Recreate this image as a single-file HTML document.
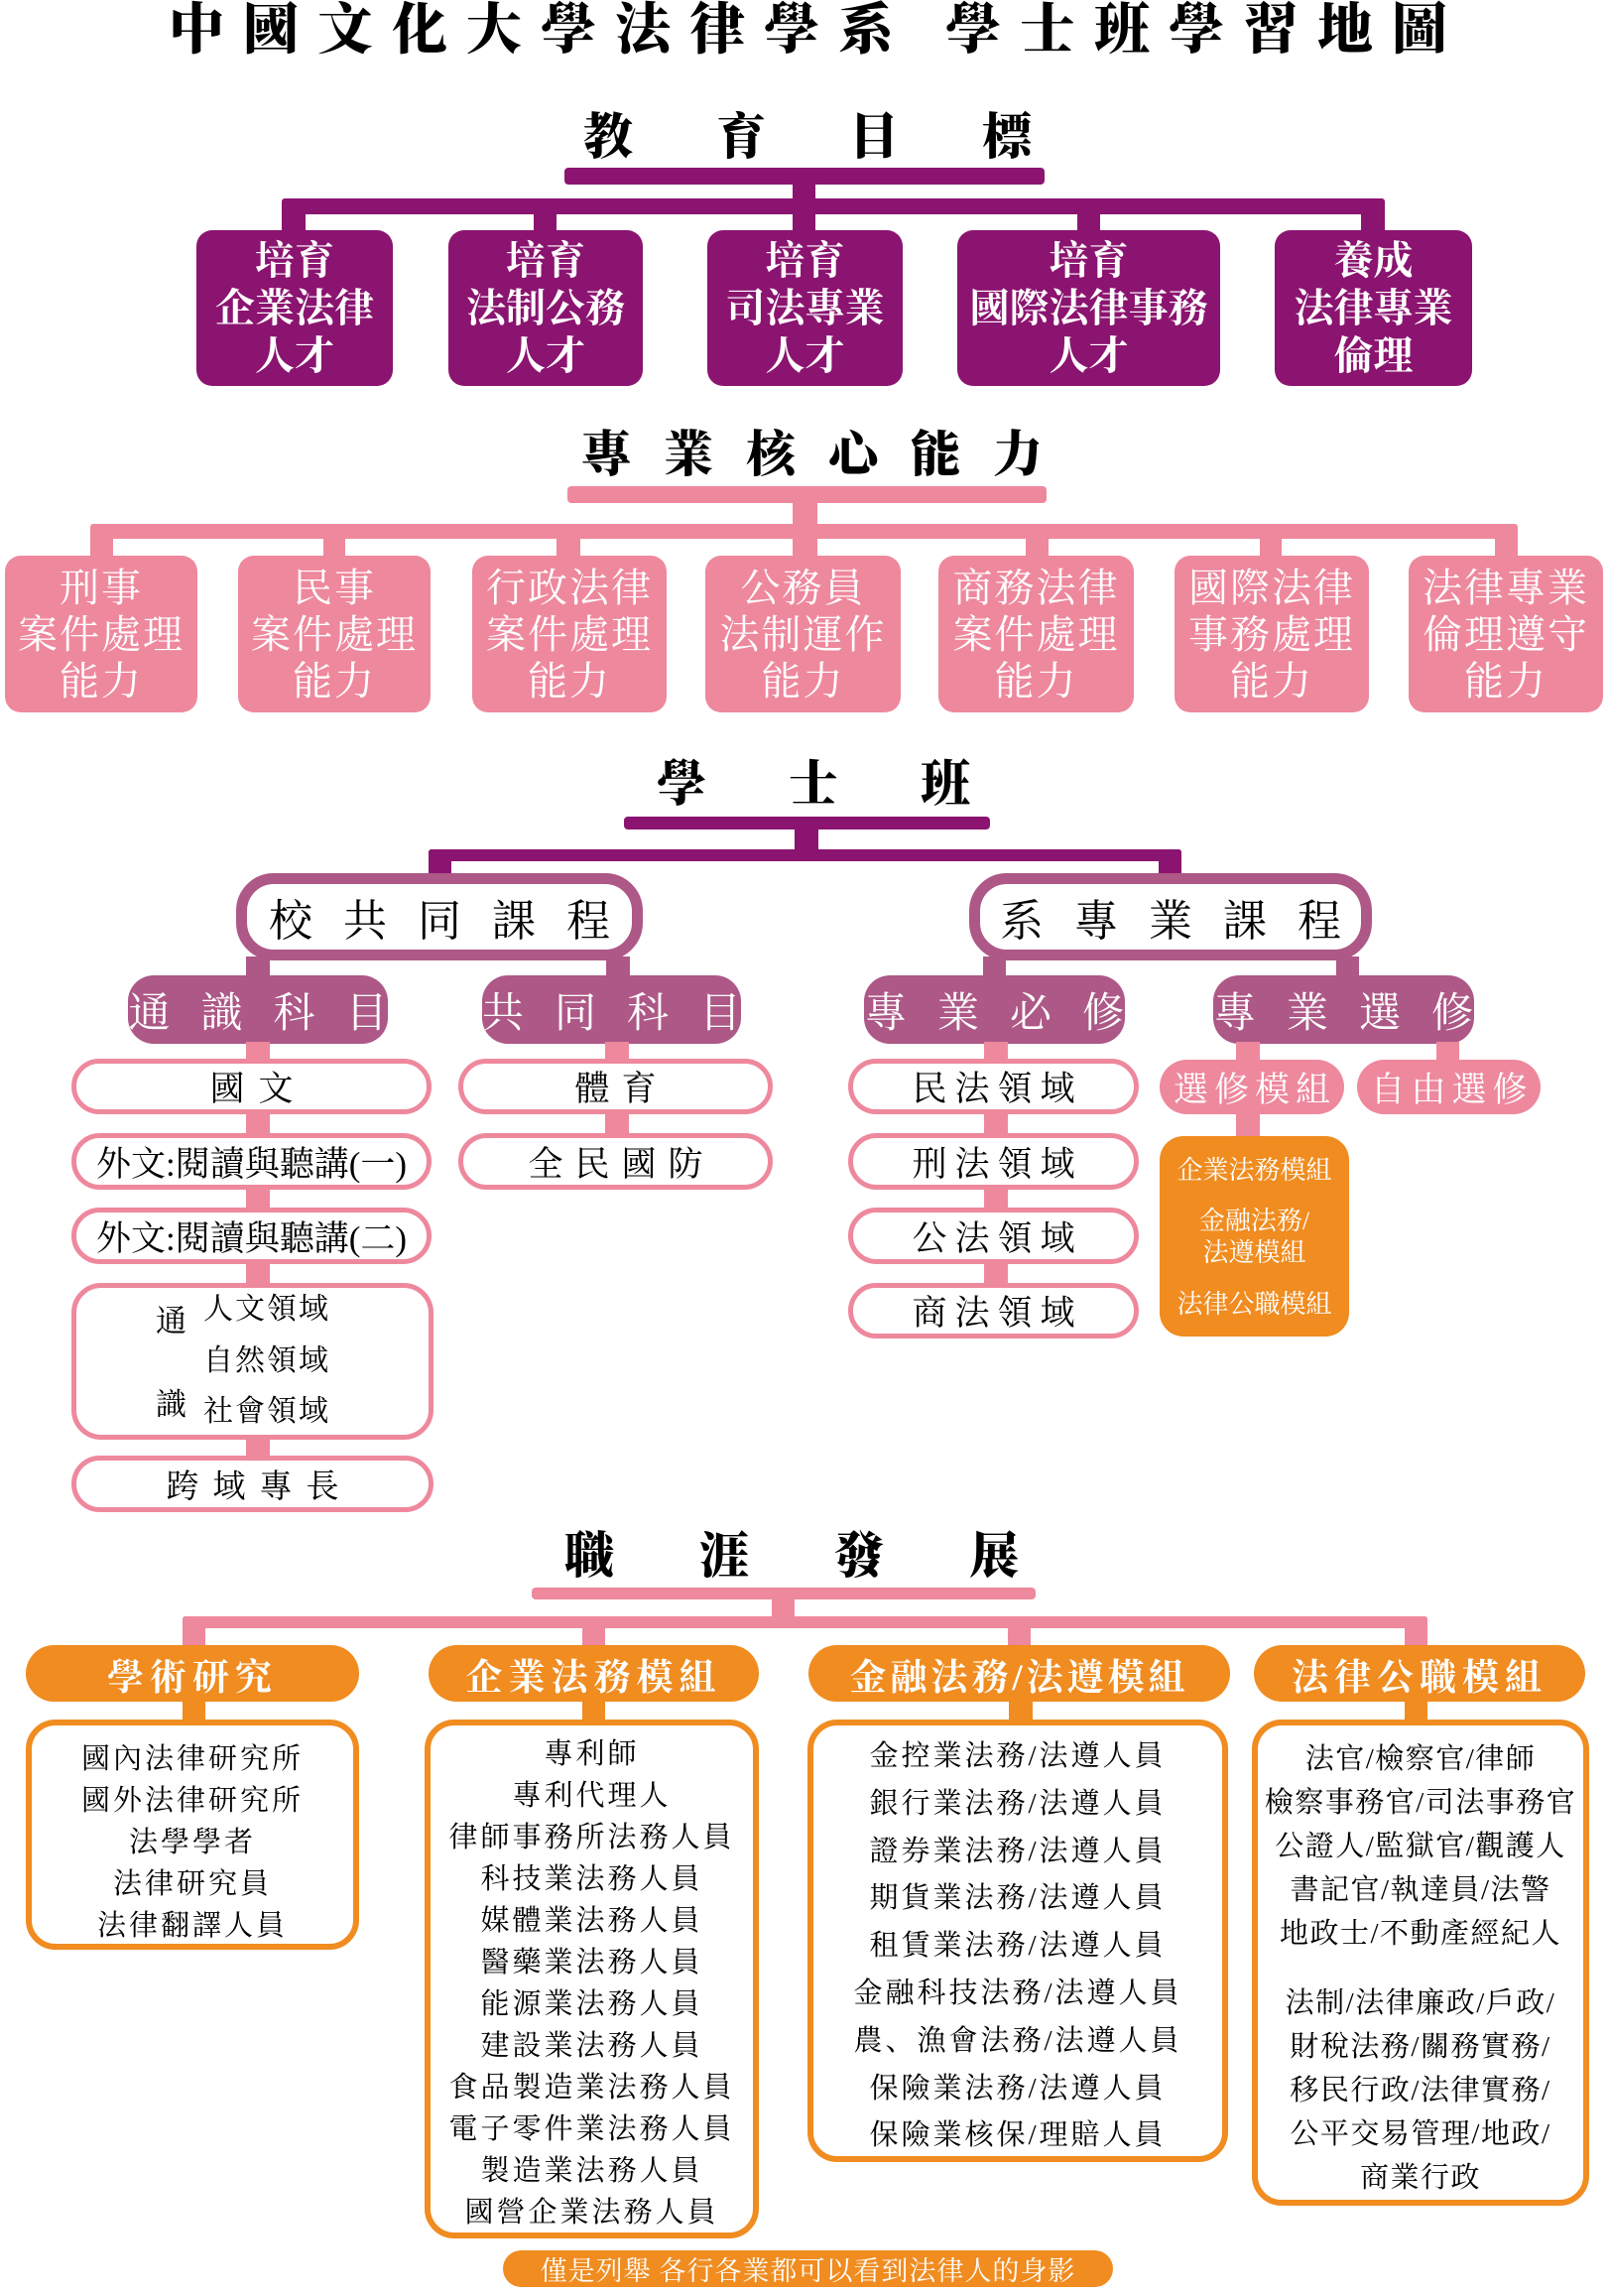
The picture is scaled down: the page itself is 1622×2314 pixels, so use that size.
<!DOCTYPE html>
<html><head><meta charset="utf-8"><style>
html,body{margin:0;padding:0;background:#fff}
body{width:1622px;height:2314px;position:relative;overflow:hidden;font-family:"Liberation Serif","Noto Serif CJK SC","Noto Sans CJK TC",serif}
.a{position:absolute;box-sizing:border-box}
.c{position:absolute;box-sizing:border-box;display:flex;flex-direction:column;align-items:center;justify-content:center;text-align:center;white-space:nowrap}
.P{background:#8B1470}.K{background:#EE889D}.M{background:#AD5886}.O{background:#F08C20}
.h{font-weight:900;color:#000;font-size:50px;white-space:nowrap}
.pb{background:#8B1470;border-radius:16px;color:#fff;font-size:40px;font-weight:700;line-height:48px}
.kb{background:#EE889D;border-radius:16px;color:#fff;font-size:40px;line-height:47px;letter-spacing:2px}
.big{border:11px solid #AD5886;border-radius:38px;background:#fff;font-size:44px;letter-spacing:31px;padding-left:31px;color:#000}
.sub{background:#AD5886;border-radius:26px;color:#fff;font-size:42px;letter-spacing:31px;padding-left:31px}
.pk{border:5px solid #EE889D;border-radius:30px;background:#fff;font-size:35px;color:#000}
.oh{background:#F08C20;border-radius:30px;color:#fff;font-size:37px;font-weight:700;letter-spacing:6px}
.ob{border:6px solid #F08C20;border-radius:30px;background:#fff;font-size:29px;color:#000;letter-spacing:3px;justify-content:flex-start}
</style></head><body>

<div class="a h" style="left:170px;top:-2px;font-size:56px;letter-spacing:19px;line-height:66px">中國文化大學法律學系 學士班學習地圖</div>

<!-- Section 1 -->
<div class="a h" style="left:588px;top:108px;letter-spacing:84px;line-height:60px">教育目標</div>
<div class="a P" style="left:569px;top:169px;width:484px;height:17px;border-radius:4px"></div>
<div class="a P" style="left:799px;top:185px;width:23px;height:20px"></div>
<div class="a P" style="left:284px;top:200px;width:1112px;height:16px;border-radius:3px"></div>
<div class="a P" style="left:284px;top:210px;width:24px;height:26px"></div>
<div class="a P" style="left:538px;top:210px;width:23px;height:26px"></div>
<div class="a P" style="left:799px;top:210px;width:23px;height:26px"></div>
<div class="a P" style="left:1086px;top:210px;width:23px;height:26px"></div>
<div class="a P" style="left:1372px;top:210px;width:24px;height:26px"></div>
<div class="c pb" style="left:198px;top:232px;width:198px;height:157px">培育<br>企業法律<br>人才</div>
<div class="c pb" style="left:452px;top:232px;width:196px;height:157px">培育<br>法制公務<br>人才</div>
<div class="c pb" style="left:713px;top:232px;width:197px;height:157px">培育<br>司法專業<br>人才</div>
<div class="c pb" style="left:965px;top:232px;width:265px;height:157px">培育<br>國際法律事務<br>人才</div>
<div class="c pb" style="left:1285px;top:232px;width:199px;height:157px">養成<br>法律專業<br>倫理</div>

<!-- Section 2 -->
<div class="a h" style="left:586px;top:428px;letter-spacing:33px;line-height:60px">專業核心能力</div>
<div class="a K" style="left:572px;top:490px;width:483px;height:17px;border-radius:4px"></div>
<div class="a K" style="left:799px;top:505px;width:25px;height:25px"></div>
<div class="a K" style="left:91px;top:528px;width:1439px;height:15px;border-radius:3px"></div>
<div class="a K" style="left:91px;top:540px;width:23px;height:22px"></div>
<div class="a K" style="left:326px;top:540px;width:22px;height:22px"></div>
<div class="a K" style="left:561px;top:540px;width:24px;height:22px"></div>
<div class="a K" style="left:799px;top:540px;width:25px;height:22px"></div>
<div class="a K" style="left:1034px;top:540px;width:23px;height:22px"></div>
<div class="a K" style="left:1270px;top:540px;width:22px;height:22px"></div>
<div class="a K" style="left:1507px;top:540px;width:23px;height:22px"></div>
<div class="c kb" style="left:5px;top:560px;width:194px;height:158px">刑事<br>案件處理<br>能力</div>
<div class="c kb" style="left:240px;top:560px;width:194px;height:158px">民事<br>案件處理<br>能力</div>
<div class="c kb" style="left:476px;top:560px;width:196px;height:158px">行政法律<br>案件處理<br>能力</div>
<div class="c kb" style="left:711px;top:560px;width:197px;height:158px">公務員<br>法制運作<br>能力</div>
<div class="c kb" style="left:946px;top:560px;width:197px;height:158px">商務法律<br>案件處理<br>能力</div>
<div class="c kb" style="left:1184px;top:560px;width:196px;height:158px">國際法律<br>事務處理<br>能力</div>
<div class="c kb" style="left:1420px;top:560px;width:196px;height:158px">法律專業<br>倫理遵守<br>能力</div>

<!-- Section 3 -->
<div class="a h" style="left:662px;top:760px;letter-spacing:83px;line-height:60px">學士班</div>
<div class="a P" style="left:629px;top:823px;width:369px;height:13px;border-radius:4px"></div>
<div class="a P" style="left:801px;top:834px;width:24px;height:24px"></div>
<div class="a P" style="left:432px;top:856px;width:759px;height:12px;border-radius:3px"></div>
<div class="a P" style="left:432px;top:856px;width:23px;height:28px;border-radius:3px 0 0 0"></div>
<div class="a P" style="left:1168px;top:856px;width:23px;height:28px;border-radius:0 3px 0 0"></div>
<div class="c big" style="left:238px;top:880px;width:410px;height:88px">校共同課程</div>
<div class="c big" style="left:977px;top:880px;width:406px;height:88px">系專業課程</div>
<div class="a M" style="left:248px;top:964px;width:24px;height:22px"></div>
<div class="a M" style="left:611px;top:964px;width:24px;height:22px"></div>
<div class="a M" style="left:991px;top:964px;width:23px;height:22px"></div>
<div class="a M" style="left:1347px;top:964px;width:23px;height:22px"></div>
<div class="c sub" style="left:129px;top:983px;width:262px;height:69px">通識科目</div>
<div class="c sub" style="left:486px;top:983px;width:261px;height:69px">共同科目</div>
<div class="c sub" style="left:871px;top:983px;width:263px;height:69px">專業必修</div>
<div class="c sub" style="left:1223px;top:983px;width:263px;height:69px">專業選修</div>

<!-- pink stems -->
<div class="a K" style="left:248px;top:1050px;width:24px;height:420px"></div>
<div class="a K" style="left:610px;top:1050px;width:24px;height:95px"></div>
<div class="a K" style="left:992px;top:1050px;width:24px;height:245px"></div>
<div class="a K" style="left:1246px;top:1050px;width:24px;height:97px"></div>
<div class="a K" style="left:1448px;top:1050px;width:23px;height:20px"></div>

<div class="c pk" style="left:72px;top:1067px;width:363px;height:56px;letter-spacing:14px;padding-left:14px">國文</div>
<div class="c pk" style="left:72px;top:1142px;width:363px;height:57px;font-size:35px">外文:閱讀與聽講(一)</div>
<div class="c pk" style="left:72px;top:1217px;width:363px;height:57px;font-size:35px">外文:閱讀與聽講(二)</div>
<div class="a pk" style="left:72px;top:1293px;width:365px;height:158px;font-size:30px"></div>
<div class="a" style="left:157px;top:1314px;font-size:31px;line-height:36px">通</div>
<div class="a" style="left:157px;top:1398px;font-size:31px;line-height:36px">識</div>
<div class="a" style="left:205px;top:1302px;font-size:30px;line-height:36px;letter-spacing:2px">人文領域</div>
<div class="a" style="left:205px;top:1354px;font-size:30px;line-height:36px;letter-spacing:2px">自然領域</div>
<div class="a" style="left:205px;top:1405px;font-size:30px;line-height:36px;letter-spacing:2px">社會領域</div>
<div class="c pk" style="left:72px;top:1467px;width:365px;height:57px;font-size:33px;letter-spacing:14px;padding-left:14px">跨域專長</div>

<div class="c pk" style="left:462px;top:1067px;width:317px;height:56px;letter-spacing:12px;padding-left:12px">體育</div>
<div class="c pk" style="left:462px;top:1142px;width:317px;height:57px;letter-spacing:12px;padding-left:12px">全民國防</div>

<div class="c pk" style="left:855px;top:1067px;width:293px;height:56px;letter-spacing:8px;padding-left:8px">民法領域</div>
<div class="c pk" style="left:855px;top:1142px;width:293px;height:57px;letter-spacing:8px;padding-left:8px">刑法領域</div>
<div class="c pk" style="left:855px;top:1217px;width:293px;height:57px;letter-spacing:8px;padding-left:8px">公法領域</div>
<div class="c pk" style="left:855px;top:1293px;width:293px;height:56px;letter-spacing:8px;padding-left:8px">商法領域</div>

<div class="c K" style="left:1169px;top:1068px;width:186px;height:55px;border-radius:28px;color:#fff;font-size:35px;letter-spacing:6px;padding-left:6px">選修模組</div>
<div class="c K" style="left:1368px;top:1068px;width:185px;height:55px;border-radius:28px;color:#fff;font-size:35px;letter-spacing:6px;padding-left:6px">自由選修</div>
<div class="a O" style="left:1169px;top:1145px;width:191px;height:202px;border-radius:24px"></div>
<div class="a" style="left:1169px;width:191px;top:1163px;text-align:center;color:#fff;font-size:26px;line-height:34px">企業法務模組</div>
<div class="a" style="left:1169px;width:191px;top:1215px;text-align:center;color:#fff;font-size:26px;line-height:32px">金融法務/<br>法遵模組</div>
<div class="a" style="left:1169px;width:191px;top:1298px;text-align:center;color:#fff;font-size:26px;line-height:34px">法律公職模組</div>

<!-- Section 4 -->
<div class="a h" style="left:569px;top:1538px;letter-spacing:86px;line-height:60px">職涯發展</div>
<div class="a K" style="left:536px;top:1600px;width:508px;height:12px;border-radius:4px"></div>
<div class="a K" style="left:778px;top:1610px;width:23px;height:22px"></div>
<div class="a K" style="left:184px;top:1629px;width:1255px;height:12px;border-radius:3px"></div>
<div class="a K" style="left:184px;top:1629px;width:23px;height:34px;border-radius:3px 0 0 0"></div>
<div class="a K" style="left:587px;top:1638px;width:23px;height:25px"></div>
<div class="a K" style="left:1016px;top:1638px;width:23px;height:25px"></div>
<div class="a K" style="left:1416px;top:1629px;width:23px;height:34px;border-radius:0 3px 0 0"></div>

<div class="a O" style="left:184px;top:1712px;width:23px;height:24px"></div>
<div class="a O" style="left:587px;top:1712px;width:23px;height:24px"></div>
<div class="a O" style="left:1017px;top:1712px;width:24px;height:24px"></div>
<div class="a O" style="left:1416px;top:1712px;width:23px;height:24px"></div>

<div class="c oh" style="left:26px;top:1658px;width:336px;height:57px">學術研究</div>
<div class="c oh" style="left:432px;top:1658px;width:333px;height:57px">企業法務模組</div>
<div class="c oh" style="left:815px;top:1658px;width:425px;height:57px;letter-spacing:4px">金融法務/法遵模組</div>
<div class="c oh" style="left:1264px;top:1658px;width:334px;height:57px">法律公職模組</div>

<div class="c ob" style="left:26px;top:1733px;width:336px;height:232px;padding-top:13px;line-height:42px">國內法律研究所<br>國外法律研究所<br>法學學者<br>法律研究員<br>法律翻譯人員</div>
<div class="c ob" style="left:428px;top:1733px;width:337px;height:523px;padding-top:8px;line-height:42px">專利師<br>專利代理人<br>律師事務所法務人員<br>科技業法務人員<br>媒體業法務人員<br>醫藥業法務人員<br>能源業法務人員<br>建設業法務人員<br>食品製造業法務人員<br>電子零件業法務人員<br>製造業法務人員<br>國營企業法務人員</div>
<div class="c ob" style="left:814px;top:1733px;width:424px;height:446px;padding-top:8px;line-height:47.8px">金控業法務/法遵人員<br>銀行業法務/法遵人員<br>證券業法務/法遵人員<br>期貨業法務/法遵人員<br>租賃業法務/法遵人員<br>金融科技法務/法遵人員<br>農、漁會法務/法遵人員<br>保險業法務/法遵人員<br>保險業核保/理賠人員</div>
<div class="c ob" style="left:1262px;top:1733px;width:340px;height:490px;padding-top:12px;line-height:44px;letter-spacing:1.5px">法官/檢察官/律師<br>檢察事務官/司法事務官<br>公證人/監獄官/觀護人<br>書記官/執達員/法警<br>地政士/不動產經紀人<br><span style="display:block;height:27px"></span>法制/法律廉政/戶政/<br>財稅法務/關務實務/<br>移民行政/法律實務/<br>公平交易管理/地政/<br>商業行政</div>

<div class="c O" style="left:507px;top:2268px;width:615px;height:37px;border-radius:19px;color:#fff;font-size:27px;letter-spacing:1px">僅是列舉 各行各業都可以看到法律人的身影</div>

</body></html>
